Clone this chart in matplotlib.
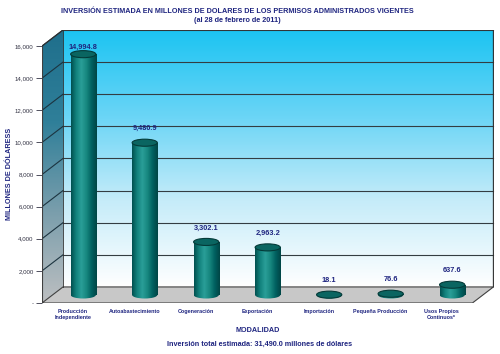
import numpy as np
import matplotlib.pyplot as plt
from matplotlib.patches import Polygon, Ellipse
from matplotlib.colors import LinearSegmentedColormap

# data
categorias = ["Producción\nIndependiente", "Autoabastecimiento", "Cogeneración",
              "Exportación", "Importación", "Pequeña Producción",
              "Usos Propios\nContinuos*"]
inversion = [14994.8, 9480.9, 3302.1, 2963.2, 18.1, 76.6, 637.6]
yticks = [0, 2000, 4000, 6000, 8000, 10000, 12000, 14000, 16000]
yticklabels = ["-", "2,000", "4,000", "6,000", "8,000", "10,000", "12,000", "14,000", "16,000"]

navy = "#1f2580"
plt.rcParams['font.family'] = ['Liberation Sans', 'DejaVu Sans']

fig = plt.figure(figsize=(5, 3.54), dpi=100)
ax = fig.add_axes([42/500, 51/354, 455/500, 273/354])

n = len(categorias)
dx = 21/61.5          # depth offset in category units
dy = 1000             # depth offset in value units
ymax = 16000

# back wall with vertical gradient
wall = LinearSegmentedColormap.from_list("wall", ["#ffffff", "#c6ecf9", "#6ad5f6", "#1cc4f2"])
grad = np.linspace(0, 1, 256).reshape(-1, 1)
ax.imshow(grad, extent=[dx, n+dx, dy, ymax+dy], origin='lower', aspect='auto', cmap=wall, zorder=0)

# left side wall
side = LinearSegmentedColormap.from_list("side", ["#bdbfc1", "#7a9eac", "#2f7f99", "#1f6f8c"])
sidepoly = Polygon([(0, 0), (0, ymax), (dx, ymax+dy), (dx, dy)], closed=True,
                   facecolor='none', edgecolor='none')
ax.add_patch(sidepoly)
im = ax.imshow(grad, extent=[0, dx, 0, ymax+dy], origin='lower', aspect='auto', cmap=side, zorder=0)
im.set_clip_path(sidepoly)

# floor
ax.add_patch(Polygon([(0, 0), (n, 0), (n+dx, dy), (dx, dy)], closed=True,
                     facecolor="#c8c8c8", edgecolor="#404040", lw=0.8, zorder=1))

# gridlines on wall and side
for v in yticks[1:]:
    ax.plot([dx, n+dx], [v+dy, v+dy], color="#333d42", lw=0.8, zorder=1)
    ax.plot([0, dx], [v, v+dy], color="#1c3440", lw=0.8, zorder=1)

# outline edges
ax.plot([0, 0], [0, ymax], color="#404040", lw=0.8, zorder=2)
ax.plot([0, dx, n+dx, n+dx], [ymax, ymax+dy, ymax+dy, dy], color="#303030", lw=0.8, zorder=2)
ax.plot([dx, dx], [dy, ymax+dy], color="#303030", lw=0.6, zorder=2)

# cylinders
cyl = LinearSegmentedColormap.from_list("cyl", ["#004f4f", "#12827d", "#2a9e98", "#17877f", "#006060", "#004545"])
hgrad = np.linspace(0, 1, 256).reshape(1, -1)
w = 0.41
eh = 440
x = np.arange(n) + 0.5 + dx/2
y0 = dy/2
bars = ax.bar(x, inversion, width=w, bottom=y0, color="#0f7f7a", zorder=3)
for xi, v, b in zip(x, inversion, bars):
    bot = Ellipse((xi, y0), w, eh, facecolor='none', edgecolor='none')
    ax.add_patch(bot)
    for clip in (b, bot):
        g = ax.imshow(hgrad, extent=[xi-w/2, xi+w/2, y0-eh/2, y0+v], aspect='auto',
                      cmap=cyl, zorder=3)
        g.set_clip_path(clip)
    ax.add_patch(Ellipse((xi, y0+v), w, eh, facecolor="#0a6561", edgecolor="#043a38",
                         lw=0.8, zorder=4))
    ly = min(y0 + v + 870, 15950)
    ax.text(xi, ly, f"{v:,.1f}", ha='center', va='center', fontsize=5.3,
            fontweight='bold', color=navy, zorder=5)

ax.set_xlim(0, 7.4)
ax.set_ylim(0, 17000)
for s in ax.spines.values():
    s.set_visible(False)
ax.set_yticks(yticks)
ax.set_yticklabels(yticklabels)
ax.tick_params(axis='y', length=4, width=0.6, labelsize=4.4, colors="#333344", pad=2)
ax.set_xticks(np.arange(n) + 0.5)
ax.set_xticklabels(categorias, fontsize=3.9, fontweight='bold', color=navy, linespacing=1.3)
ax.tick_params(axis='x', length=0, pad=4)

fs = 5.2
fig.text(0.474, 0.968, "INVERSIÓN ESTIMADA EN MILLONES DE DOLARES DE LOS PERMISOS ADMINISTRADOS VIGENTES",
         ha='center', va='center', fontsize=fs, fontweight='bold', color=navy)
fig.text(0.474, 0.943, "(al 28 de febrero de 2011)", ha='center', va='center',
         fontsize=fs, fontweight='bold', color=navy)
fig.text(0.019, 0.51, "MILLONES DE DÓLARESS", rotation=90, ha='center', va='center',
         fontsize=fs, fontweight='bold', color=navy)
fig.text(0.516, 0.065, "MODALIDAD", ha='center', va='center', fontsize=fs,
         fontweight='bold', color=navy)
fig.text(0.52, 0.028, "Inversión total estimada: 31,490.0 millones de dólares", ha='center',
         va='center', fontsize=fs, fontweight='bold', color=navy)

fig.savefig("out.png", dpi=100)
